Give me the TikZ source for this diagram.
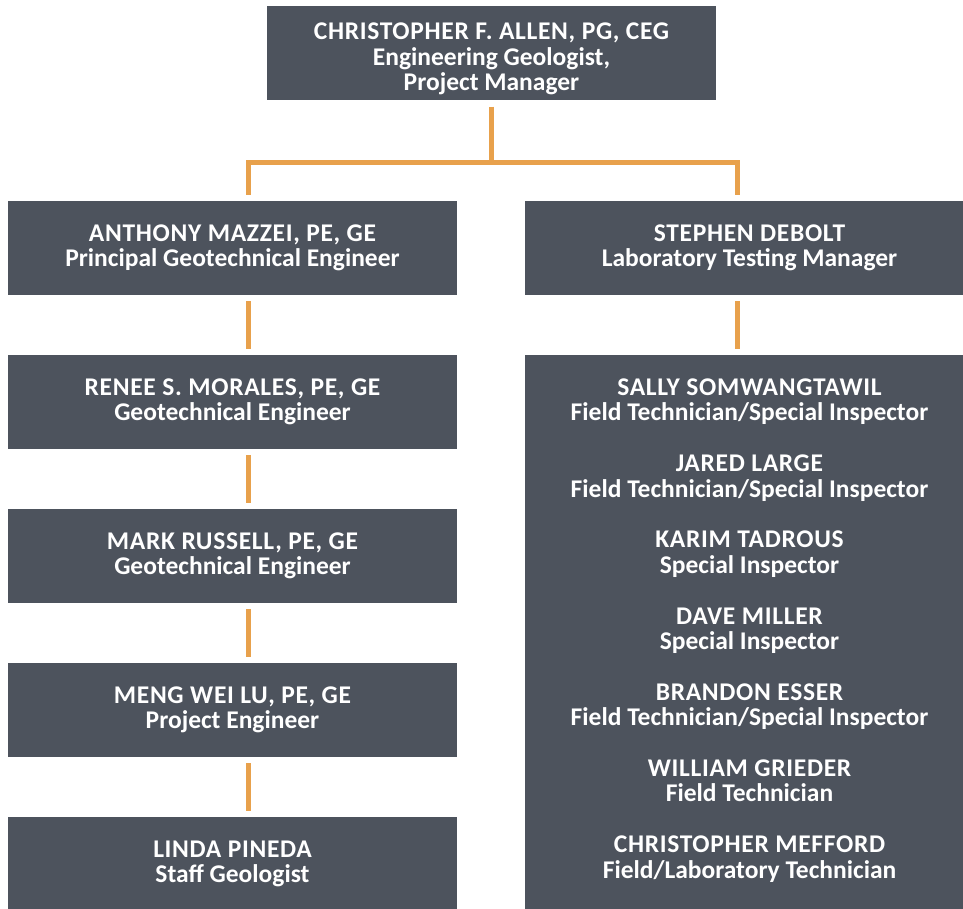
\documentclass[tikz,border=0pt]{standalone}
\usepackage{fontspec}
\setmainfont{Carlito}
\definecolor{boxgray}{RGB}{77,83,93}
\definecolor{linkorange}{RGB}{232,161,76}
\newcommand\nm[1]{{\addfontfeature{LetterSpace=2.7}#1}}
\begin{document}
\begin{tikzpicture}[x=1pt,y=-1pt,
    cardtext/.style={text=white,inner sep=0pt,align=center,font=\fontsize{25.5}{25.4}\selectfont\bfseries},
    card/.style={cardtext,fill=boxgray,minimum width=449pt,minimum height=94pt},
    link/.style={draw=linkorange,line width=5pt,shorten <=6pt,shorten >=6pt}]
\useasboundingbox (0,0) rectangle (963,909);
\clip (0,0) rectangle (963,909);
\node[card] (allen) at (491.5,53.5) {};
\node[cardtext] (allen-text) at ([yshift=-5.5pt]allen.center) {\nm{CHRISTOPHER F. ALLEN, PG, CEG}\\Engineering Geologist,\\Project Manager};
% left column
\node[card] (anthony) at (232.5,248) {\nm{ANTHONY MAZZEI, PE, GE}\\Principal Geotechnical Engineer};
\node[card] (renee) at (232.5,402) {\nm{RENEE S. MORALES, PE, GE}\\Geotechnical Engineer};
\node[card] (mark) at (232.5,556) {\nm{MARK RUSSELL, PE, GE}\\Geotechnical Engineer};
\node[card] (meng) at (232.5,710) {\nm{MENG WEI LU, PE, GE}\\Project Engineer};
\node[card] (linda) at (232.5,864) {\nm{LINDA PINEDA}\\Staff Geologist};
% right column
\node[card] (stephen) at (749.5,248) {\nm{STEPHEN DEBOLT}\\Laboratory Testing Manager};
\node[card,minimum height=562pt] (crew) at (749.5,636) {};
\node[cardtext] (crew-text) at ([yshift=5.5pt]crew.center) {\nm{SALLY SOMWANGTAWIL}\\Field Technician/Special Inspector\\[25.4pt]
  \nm{JARED LARGE}\\Field Technician/Special Inspector\\[25.4pt]
  \nm{KARIM TADROUS}\\Special Inspector\\[25.4pt]
  \nm{DAVE MILLER}\\Special Inspector\\[25.4pt]
  \nm{BRANDON ESSER}\\Field Technician/Special Inspector\\[25.4pt]
  \nm{WILLIAM GRIEDER}\\Field Technician\\[25.4pt]
  \nm{CHRISTOPHER MEFFORD}\\Field/Laboratory Technician};
\coordinate (fork) at (491.5,163);
\coordinate (lc) at (248,0);
\coordinate (rc) at (737.7,0);
\draw[link,shorten >=0pt] (allen.south) -- (fork);
\draw[link] (anthony.north -| lc) -- (fork -| lc) -- (fork -| rc) -- (stephen.north -| rc);
\foreach \a/\b in {anthony/renee,renee/mark,mark/meng,meng/linda}
  \draw[link] (\a.south -| lc) -- (\b.north -| lc);
\draw[link] (stephen.south -| rc) -- (crew.north -| rc);
\end{tikzpicture}
\end{document}
